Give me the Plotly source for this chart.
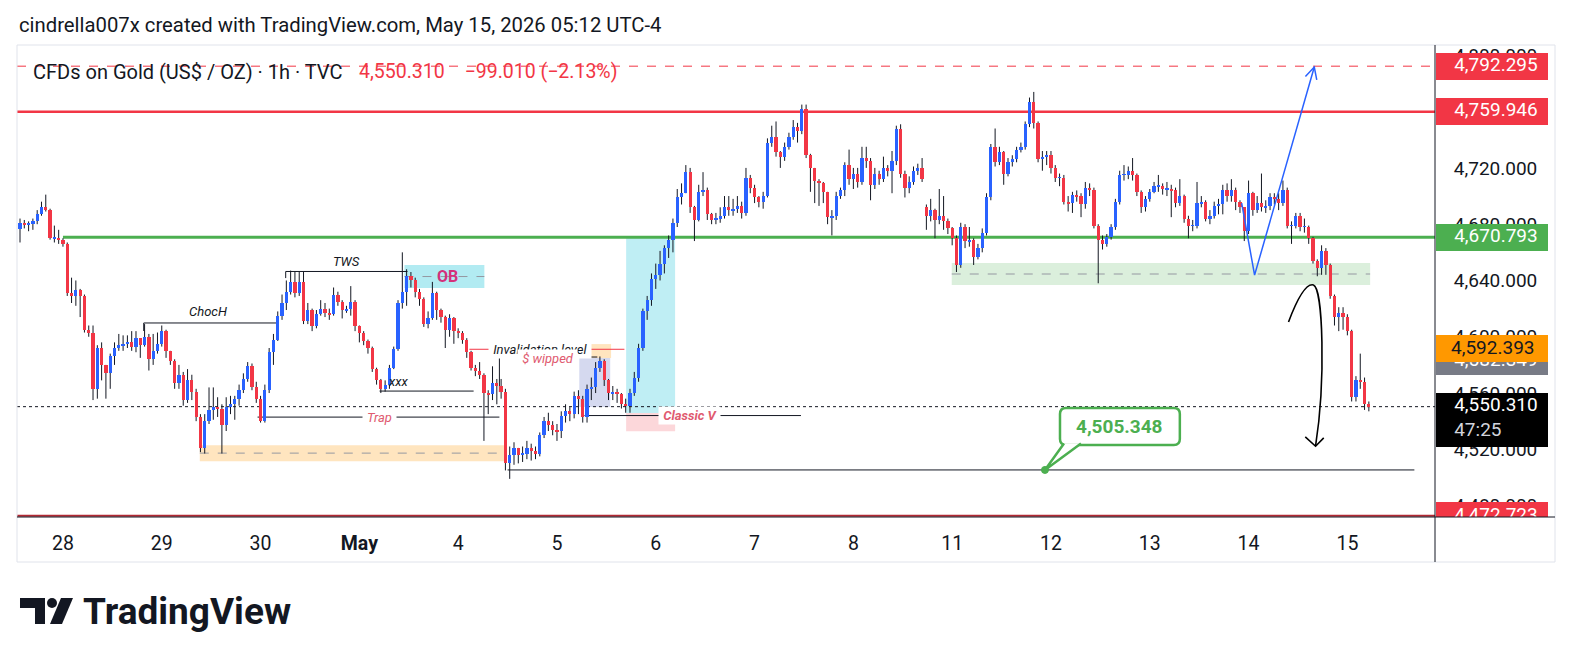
import math
import plotly.graph_objects as go

# ---------------- data (1h candles, XAUUSD) ----------------
close_px = [
    4681, 4680, 4680, 4682, 4687, 4692, 4690, 4670, 4670, 4669,
    4666, 4631, 4629, 4633, 4629, 4605, 4603, 4563, 4592, 4580,
    4574, 4586, 4592, 4594, 4595, 4596, 4593, 4599, 4594, 4600,
    4584, 4590, 4595, 4604, 4590, 4583, 4567, 4573, 4555, 4569,
    4561, 4543, 4521, 4540, 4548, 4550, 4549, 4537, 4550, 4552,
    4556, 4562, 4570, 4579, 4564, 4556, 4540, 4562, 4589, 4598,
    4615, 4624, 4632, 4639, 4631, 4639, 4611, 4619, 4608, 4616,
    4620, 4617, 4616, 4630, 4625, 4619, 4620, 4625, 4608, 4603,
    4597, 4592, 4577, 4569, 4563, 4566, 4578, 4591, 4624, 4632,
    4643, 4640, 4632, 4627, 4609, 4613, 4631, 4619, 4614, 4605,
    4613, 4604, 4603, 4598, 4589, 4578, 4576, 4573, 4560, 4559,
    4567, 4565, 4561, 4510, 4516, 4521, 4516, 4517, 4521, 4519,
    4517, 4530, 4540, 4537, 4534, 4533, 4544, 4547, 4545, 4558,
    4556, 4543, 4563, 4564, 4578, 4583, 4569, 4560, 4561, 4559,
    4552, 4551, 4560, 4571, 4592, 4618, 4626, 4641, 4644, 4652,
    4663, 4669, 4681, 4699, 4702, 4717, 4692, 4683, 4703, 4704,
    4687, 4683, 4684, 4686, 4692, 4690, 4691, 4693, 4688, 4713,
    4706, 4699, 4696, 4700, 4738, 4742, 4731, 4728, 4735, 4742,
    4749, 4746, 4762, 4729, 4720, 4711, 4709, 4703, 4685, 4686,
    4700, 4704, 4722, 4712, 4716, 4710, 4727, 4725, 4708, 4716,
    4712, 4720, 4718, 4725, 4748, 4716, 4706, 4710, 4718, 4720,
    4712, 4686, 4690, 4683, 4686, 4682, 4677, 4670, 4651, 4678,
    4668, 4669, 4657, 4663, 4674, 4699, 4735, 4724, 4731, 4716,
    4724, 4726, 4733, 4735, 4751, 4767, 4752, 4726, 4728, 4729,
    4720, 4713, 4713, 4696, 4695, 4701, 4700, 4694, 4706, 4704,
    4679, 4669, 4666, 4671, 4678, 4696, 4715, 4715, 4718, 4715,
    4703, 4692, 4698, 4703, 4707, 4707, 4705, 4705, 4704, 4695,
    4700, 4684, 4679, 4679, 4695, 4696, 4684, 4686, 4693, 4694,
    4704, 4700, 4704, 4696, 4692, 4675, 4702, 4690, 4695, 4692,
    4693, 4699, 4698, 4695, 4704, 4679, 4679, 4686, 4678, 4678,
    4670, 4654, 4649, 4661, 4651, 4629, 4614, 4617, 4614, 4604,
    4557, 4569, 4568, 4552, 4550.31,
]
high_px = [
    4684, 4683, 4682, 4684, 4690, 4696, 4701, 4691, 4679, 4676,
    4670, 4667, 4642, 4640, 4634, 4630, 4608, 4608, 4594, 4596,
    4580, 4588, 4596, 4602, 4601, 4601, 4604, 4604, 4599, 4609,
    4602, 4602, 4603, 4608, 4605, 4590, 4584, 4580, 4575, 4577,
    4573, 4563, 4545, 4545, 4564, 4564, 4557, 4552, 4557, 4558,
    4558, 4566, 4574, 4582, 4581, 4568, 4558, 4566, 4592, 4602,
    4618, 4630, 4640, 4647, 4646, 4646, 4646, 4624, 4620, 4619,
    4626, 4624, 4620, 4635, 4632, 4626, 4622, 4636, 4626, 4608,
    4604, 4598, 4593, 4578, 4570, 4569, 4580, 4593, 4626, 4660,
    4648, 4646, 4642, 4634, 4628, 4618, 4639, 4632, 4620, 4615,
    4616, 4614, 4606, 4604, 4599, 4590, 4580, 4582, 4574, 4562,
    4579, 4570, 4570, 4563, 4522, 4525, 4521, 4522, 4526, 4524,
    4522, 4532, 4543, 4546, 4540, 4538, 4547, 4552, 4550, 4561,
    4562, 4558, 4566, 4571, 4582, 4586, 4584, 4570, 4565, 4563,
    4560, 4556, 4563, 4575, 4595, 4620, 4629, 4645, 4652, 4661,
    4665, 4672, 4684, 4705, 4709, 4722, 4720, 4693, 4708, 4717,
    4706, 4688, 4688, 4692, 4700, 4700, 4698, 4700, 4696, 4720,
    4715, 4708, 4700, 4703, 4741, 4750, 4753, 4732, 4738, 4745,
    4754, 4752, 4765, 4765, 4730, 4720, 4712, 4710, 4703, 4690,
    4703, 4706, 4724, 4733, 4720, 4720, 4735, 4735, 4727, 4720,
    4718, 4728, 4722, 4732, 4750, 4751, 4718, 4714, 4721, 4723,
    4727, 4694, 4698, 4691, 4705, 4700, 4684, 4678, 4672, 4681,
    4680, 4678, 4670, 4666, 4677, 4702, 4737, 4748, 4735, 4732,
    4727, 4729, 4735, 4738, 4753, 4770, 4774, 4753, 4732, 4732,
    4732, 4722, 4716, 4715, 4700, 4703, 4704, 4702, 4710, 4709,
    4706, 4680, 4672, 4673, 4680, 4698, 4718, 4722, 4721, 4727,
    4716, 4704, 4700, 4705, 4710, 4715, 4709, 4710, 4708, 4706,
    4712, 4701, 4686, 4683, 4710, 4700, 4697, 4690, 4696, 4698,
    4708, 4709, 4712, 4706, 4697, 4692, 4711, 4703, 4700, 4716,
    4697, 4702, 4702, 4702, 4711, 4706, 4682, 4688, 4688, 4684,
    4679, 4671, 4655, 4665, 4663, 4652, 4630, 4621, 4621, 4616,
    4605, 4572, 4588, 4571, 4554,
]
low_px = [
    4667, 4677, 4675, 4676, 4680, 4686, 4689, 4669, 4667, 4666,
    4664, 4629, 4624, 4622, 4614, 4603, 4600, 4555, 4556, 4569,
    4556, 4563, 4580, 4590, 4590, 4592, 4590, 4589, 4585, 4593,
    4576, 4580, 4588, 4593, 4585, 4580, 4563, 4563, 4551, 4553,
    4555, 4540, 4518, 4517, 4538, 4541, 4543, 4517, 4533, 4545,
    4541, 4551, 4560, 4568, 4562, 4553, 4539, 4539, 4560, 4580,
    4597, 4612, 4619, 4630, 4628, 4629, 4609, 4609, 4604, 4606,
    4615, 4614, 4612, 4615, 4622, 4613, 4617, 4615, 4604, 4596,
    4594, 4588, 4575, 4566, 4560, 4561, 4563, 4577, 4590, 4620,
    4622, 4635, 4628, 4622, 4607, 4606, 4612, 4612, 4610, 4592,
    4600, 4595, 4599, 4595, 4585, 4576, 4572, 4570, 4526, 4545,
    4555, 4552, 4556, 4505, 4499, 4509, 4510, 4511, 4513, 4512,
    4513, 4515, 4528, 4533, 4530, 4526, 4528, 4539, 4540, 4542,
    4545, 4539, 4539, 4555, 4560, 4575, 4565, 4555, 4555, 4553,
    4549, 4546, 4546, 4558, 4568, 4590, 4612, 4622, 4634, 4640,
    4645, 4656, 4660, 4678, 4694, 4702, 4688, 4668, 4682, 4700,
    4683, 4680, 4680, 4681, 4684, 4686, 4686, 4688, 4684, 4686,
    4702, 4695, 4692, 4691, 4699, 4735, 4728, 4720, 4725, 4733,
    4740, 4738, 4744, 4727, 4703, 4695, 4693, 4695, 4680, 4672,
    4683, 4698, 4700, 4708, 4705, 4706, 4708, 4720, 4697, 4705,
    4708, 4710, 4714, 4702, 4722, 4713, 4699, 4702, 4708, 4715,
    4710, 4676, 4682, 4670, 4680, 4676, 4673, 4665, 4646, 4649,
    4663, 4664, 4651, 4655, 4660, 4672, 4697, 4721, 4722, 4708,
    4714, 4721, 4724, 4731, 4733, 4749, 4748, 4724, 4718, 4722,
    4716, 4710, 4707, 4694, 4689, 4688, 4696, 4685, 4691, 4700,
    4677, 4638, 4662, 4664, 4669, 4676, 4694, 4711, 4712, 4711,
    4700, 4688, 4689, 4696, 4702, 4703, 4701, 4700, 4685, 4692,
    4693, 4681, 4670, 4675, 4677, 4692, 4682, 4680, 4684, 4687,
    4687, 4696, 4696, 4690, 4688, 4668, 4673, 4686, 4688, 4689,
    4688, 4690, 4694, 4690, 4693, 4677, 4666, 4677, 4675, 4674,
    4666, 4652, 4643, 4644, 4644, 4627, 4608, 4604, 4605, 4601,
    4554, 4554, 4563, 4548, 4547,
]
first_open = 4676.5
gap_opens = {211: 4692.0}          # Monday session open after the weekend

day_start_bar = [10, 33, 56, 79, 102, 125, 148, 171, 194, 217, 240, 263, 286, 309]
day_labels = ["28", "29", "30", "<b>May</b>", "4", "5", "6", "7", "8", "11", "12", "13", "14", "15"]
price_ticks = [4480, 4520, 4560, 4600, 4640, 4680, 4720, 4760, 4800]

target_high = 4792.295
resistance = 4759.946
support = 4670.793
floor_level = 4472.723
target_low = 4505.348
last_price = 4550.310
last_change = -99.010
last_pct = -2.13
countdown = "47:25"
extra_tag_orange = 4592.393
extra_tag_gray = 4582.349

# ---------------- colours / geometry ----------------
UP, DOWN, INK = "#2962FF", "#F23645", "#131722"
GREEN, ORANGE, GRAY = "#4CAF50", "#FF9800", "#787B86"
FONT = "Roboto"

W, H = 1574, 666
PL, PR, PAPER_R = 17, 1435, 1555
PT, PB = 45, 517
X_RANGE = [-0.7, 329.4]
Y_RANGE = [4471.9, 4807.35]
PXB = (PR - PL) / (X_RANGE[1] - X_RANGE[0])
PXU = (PB - PT) / (Y_RANGE[1] - Y_RANGE[0])
XD = (PR - PL) / (PAPER_R - PL)
TAG_TXT_X = 0.16


def to_px(b, p):
    return PL + (b - X_RANGE[0]) * PXB, PT + (Y_RANGE[1] - p) * PXU


def to_data(x, y):
    return X_RANGE[0] + (x - PL) / PXB, Y_RANGE[1] - (y - PT) / PXU


def pxx(x):
    return (x - PL) / (PAPER_R - PL)


def pxy(y):
    return (PB - y) / (PB - PT)


# ---------------- candles ----------------
opens = []
prev = first_open
for i, c in enumerate(close_px):
    opens.append(gap_opens.get(i, prev))
    prev = c
idx = list(range(len(close_px)))
hi = [max(h, o, c) for h, o, c in zip(high_px, opens, close_px)]
lo = [min(l, o, c) for l, o, c in zip(low_px, opens, close_px)]

wx, wy = [], []
for i in idx:
    wx += [i, i, None]
    wy += [lo[i], hi[i], None]

fig = go.Figure()
fig.add_trace(go.Scatter(x=wx, y=wy, mode="lines", line=dict(color=INK, width=1),
                         hoverinfo="skip", xaxis="x", yaxis="y"))
for is_up, col in ((True, UP), (False, DOWN)):
    sel = [i for i in idx if (close_px[i] >= opens[i]) == is_up]
    fig.add_trace(go.Bar(
        x=sel,
        base=[min(opens[i], close_px[i]) for i in sel],
        y=[max(abs(close_px[i] - opens[i]), 0.3) for i in sel],
        width=0.76, marker=dict(color=col, line=dict(width=0)),
        xaxis="x3", yaxis="y", hoverinfo="skip"))

# ---------------- price-scale tags (right axis area) ----------------
TAG_H = 27 / PXU
tags = [
    (target_high, f"{target_high:,.3f}", DOWN, "white"),
    (resistance, f"{resistance:,.3f}", DOWN, "white"),
    (support, f"{support:,.3f}", GREEN, "white"),
    (extra_tag_gray, f"{extra_tag_gray:,.3f}", GRAY, "white"),
    (floor_level, f"{floor_level:,.3f}", DOWN, "white"),
]
for p, txt, bg, fg in tags:
    fig.add_trace(go.Bar(x=[0.475], width=[0.933], base=[p - TAG_H / 2], y=[TAG_H],
                         marker=dict(color=bg, line=dict(width=0)),
                         xaxis="x2", yaxis="y", hoverinfo="skip"))
blk_top = to_data(0, 393)[1]
blk_bot = to_data(0, 447)[1]
fig.add_trace(go.Bar(x=[0.475], width=[0.933], base=[blk_bot], y=[blk_top - blk_bot],
                     marker=dict(color="#000000", line=dict(width=0)),
                     xaxis="x2", yaxis="y", hoverinfo="skip"))
for p, txt, bg, fg in tags:
    fig.add_trace(go.Scatter(x=[TAG_TXT_X], y=[p], mode="text", text=[txt], textposition="middle right",
                             textfont=dict(color=fg, size=19, family=FONT), cliponaxis=True,
                             xaxis="x2", yaxis="y", hoverinfo="skip"))
fig.add_trace(go.Scatter(x=[TAG_TXT_X, TAG_TXT_X], y=[to_data(0, 406)[1], to_data(0, 431)[1]], mode="text",
                         text=[f"{last_price:,.3f}", countdown], textposition="middle right",
                         textfont=dict(color=["white", "#d1d4dc"], size=19, family=FONT),
                         cliponaxis=True, xaxis="x2", yaxis="y", hoverinfo="skip"))

shapes = []
annotations = []


def hline(p, b0, b1, color=INK, width=1, dash="solid", layer="below"):
    shapes.append(dict(type="line", xref="x", yref="y", x0=b0, x1=b1, y0=p, y1=p,
                       line=dict(color=color, width=width, dash=dash), layer=layer))


def vline(b, p0, p1, color=INK, width=1, layer="below"):
    shapes.append(dict(type="line", xref="x", yref="y", x0=b, x1=b, y0=p0, y1=p1,
                       line=dict(color=color, width=width), layer=layer))


def box(b0, b1, p0, p1, fill, layer="below"):
    shapes.append(dict(type="rect", xref="x", yref="y", x0=b0, x1=b1, y0=p0, y1=p1,
                       fillcolor=fill, line=dict(width=0), layer=layer))


def label(b, p, text, color=INK, size=13, bg=None, xanchor="center"):
    annotations.append(dict(x=b, y=p, xref="x", yref="y", text=text, showarrow=False,
                            xanchor=xanchor, yanchor="middle",
                            font=dict(family=FONT, size=size, color=color),
                            bgcolor=bg, borderpad=1))


def data_path(cmds_pts):
    return " ".join(cmd + " ".join("%.4f,%.4f" % pt for pt in pts) for cmd, pts in cmds_pts)


def arrow_wings(tail, tip, length=13, ang=27):
    tx, ty = to_px(*tail)
    hx, hy = to_px(*tip)
    dx, dy = hx - tx, hy - ty
    n = math.hypot(dx, dy)
    ux, uy = -dx / n, -dy / n
    wings = []
    for s in (1, -1):
        a = math.radians(ang) * s
        rx = ux * math.cos(a) - uy * math.sin(a)
        ry = ux * math.sin(a) + uy * math.cos(a)
        wings.append(to_data(hx + rx * length, hy + ry * length))
    return wings


# zones (below candles)
box(41.85, 112.8, 4511.6, 4522.9, "rgba(255,152,0,0.25)")
hline(4517.3, 41.85, 112.8, color="#9598a1", dash="dash")
box(89.5, 108.1, 4634.6, 4651.0, "rgba(0,188,212,0.30)")
hline(4642.8, 89.5, 108.1, color="#9598a1", dash="dash")
box(216.9, 314.3, 4636.8, 4652.4, "rgba(76,175,80,0.20)")
hline(4644.6, 216.9, 314.3, color="#9598a1", dash="dash")
box(141.1, 152.5, 4545.8, 4671.6, "rgba(0,188,212,0.25)")
box(141.1, 152.5, 4532.9, 4545.8, "rgba(242,54,69,0.20)")
box(130.9, 137.6, 4584.9, 4594.8, "rgba(255,152,0,0.25)")
box(130.2, 137.4, 4550.1, 4584.9, "rgba(63,81,181,0.22)")

# key horizontal levels
hline(target_high, X_RANGE[0], X_RANGE[1], color=DOWN, width=1, dash="dash")
hline(resistance, X_RANGE[0], X_RANGE[1], color=DOWN, width=2.5)
hline(support, 10.0, X_RANGE[1], color=GREEN, width=3)
hline(floor_level, X_RANGE[0], X_RANGE[1], color="#b22833", width=2)
hline(last_price, X_RANGE[0], X_RANGE[1], color=INK, width=1, dash="dot")
hline(target_low, 113.5, 324.6, color=INK, width=1)

# structure drawings
hline(4609.8, 28.8, 60.0)
vline(28.8, 4609.8, 4604.1)
label(43.8, 4618.3, "<i>ChocH</i>")
hline(4646.4, 61.85, 90.2)
vline(61.85, 4646.4, 4641.7)
label(76.0, 4653.8, "<i>TWS</i>")
label(99.4, 4642.6, "<b>OB</b>", color="#d4317a", size=16)
hline(4561.4, 83.7, 105.6)
label(88.0, 4568.5, "<i>xxx</i>")
hline(4542.9, 55.3, 111.6)
label(83.8, 4542.9, "<i> Trap </i>", color="#e05a6f", bg="white")
hline(4591.1, 104.6, 140.7, color=DOWN)
label(121.1, 4591.1, "<i> Invalidation level </i>", bg="white")
hline(4585.6, 111.6, 134.4)
vline(111.6, 4585.6, 4560.7)
label(122.7, 4584.6, "<i> $ wipped </i>", color="#e05a6f", bg="white")
hline(4544.0, 131.4, 181.8)
label(155.8, 4544.0, "<b><i> Classic V </i></b>", color="#e05a6f", bg="white", size=13)

# blue projected V with arrow
v_pts = [(284.4, 4694.9), (287.4, 4643.8), (301.3, 4791.7)]
shapes.append(dict(type="path", xref="x", yref="y", layer="above",
                   path=data_path([("M", [v_pts[0]]), ("L", [v_pts[1]]), ("L", [v_pts[2]])]),
                   line=dict(color=UP, width=1.5)))
w1, w2 = arrow_wings(v_pts[1], v_pts[2])
shapes.append(dict(type="path", xref="x", yref="y", layer="above",
                   path=data_path([("M", [w1]), ("L", [v_pts[2]]), ("L", [w2])]),
                   line=dict(color=UP, width=1.5)))

# black curved arrow
curve = [("M", [(295.3, 4610.5)]),
         ("C", [(297.4, 4627.5), (299.3, 4638.2), (301.1, 4636.8)]),
         ("C", [(303.3, 4634.6), (304.0, 4569.3), (301.6, 4522.4)])]
shapes.append(dict(type="path", xref="x", yref="y", layer="above", path=data_path(curve),
                   line=dict(color="#000000", width=1.6)))
ca, cb = (299.2, 4528.8), (303.5, 4528.1)
shapes.append(dict(type="path", xref="x", yref="y", layer="above",
                   path=data_path([("M", [ca]), ("L", [(301.6, 4522.2)]), ("L", [cb])]),
                   line=dict(color="#000000", width=1.6)))

# price callout 4,505.348
bx0, by1 = to_px(242.1, 4523.0)
bx1, by0 = to_px(270.0, 4549.3)
r = 6
rr = [(bx0 + r, by0), (bx1 - r, by0), (bx1, by0), (bx1, by0 + r), (bx1, by1 - r), (bx1, by1),
      (bx1 - r, by1), (bx0 + r, by1), (bx0, by1), (bx0, by1 - r), (bx0, by0 + r), (bx0, by0), (bx0 + r, by0)]
parts = []
k = 0
seq = [("M", 1), ("L", 1), ("Q", 2), ("L", 1), ("Q", 2), ("L", 1), ("Q", 2), ("L", 1), ("Q", 2)]
for cmd, n in seq:
    parts.append((cmd, [to_data(*pt) for pt in rr[k:k + n]]))
    k += n
shapes.append(dict(type="path", xref="x", yref="y", layer="above", path=data_path(parts) + " Z",
                   fillcolor="white", line=dict(color=GREEN, width=2.5)))
tipx, tipy = to_px(238.6, target_low)
wedge = [to_data(bx0 + 4, by1 - 1.5), (238.6, target_low), to_data(bx0 + 21, by1 - 1.5)]
shapes.append(dict(type="path", xref="x", yref="y", layer="above",
                   path=data_path([("M", [wedge[0]]), ("L", [wedge[1]]), ("L", [wedge[2]])]),
                   fillcolor="white", line=dict(color=GREEN, width=2.5)))
d0 = to_data(tipx - 3.5, tipy + 3.5)
d1 = to_data(tipx + 3.5, tipy - 3.5)
shapes.append(dict(type="circle", xref="x", yref="y", layer="above", x0=d0[0], x1=d1[0], y0=d0[1], y1=d1[1],
                   fillcolor=GREEN, line=dict(color=GREEN, width=1)))
label(256.0, 4536.2, "<b>%s</b>" % f"{target_low:,.3f}", color=GREEN, size=19)

# orange tag drawn above the gray tag (covers it)
shapes.append(dict(type="rect", xref="x2", yref="y", layer="above", x0=0.0083, x1=0.9417,
                   y0=to_data(0, 362)[1], y1=to_data(0, 335)[1], fillcolor=ORANGE, line=dict(width=0)))
annotations.append(dict(x=0.115, y=extra_tag_orange, xref="x2", yref="y", text=f"{extra_tag_orange:,.3f}",
                        showarrow=False, xanchor="left", yanchor="middle",
                        font=dict(family=FONT, size=19, color=INK)))

# frame and axis lines
shapes.append(dict(type="rect", xref="paper", yref="paper", x0=0, x1=1, y0=pxy(562), y1=1,
                   line=dict(color="#e0e3eb", width=1), fillcolor="rgba(0,0,0,0)", layer="above"))
shapes.append(dict(type="line", xref="paper", yref="paper", x0=XD, x1=XD, y0=pxy(562), y1=1,
                   line=dict(color=INK, width=1), layer="above"))
shapes.append(dict(type="line", xref="paper", yref="paper", x0=0, x1=1, y0=0, y1=0,
                   line=dict(color=INK, width=1), layer="above"))

# header texts
annotations.append(dict(x=pxx(17), y=pxy(25), xref="paper", yref="paper", xanchor="left", yanchor="middle",
                        showarrow=False, text="cindrella007x created with TradingView.com, May 15, 2026 05:12 UTC-4",
                        font=dict(family=FONT, size=20.3, color=INK)))
annotations.append(dict(x=pxx(31), y=pxy(72), xref="paper", yref="paper", xanchor="left", yanchor="middle",
                        showarrow=False, text="CFDs on Gold (US$ / OZ) · 1h · TVC",
                        font=dict(family=FONT, size=20, color=INK)))
chg = f"{last_price:,.3f}\u2003{'−' if last_change < 0 else '+'}{abs(last_change):,.3f} ({'−' if last_pct < 0 else '+'}{abs(last_pct):.2f}%)"
annotations.append(dict(x=pxx(357), y=pxy(72), xref="paper", yref="paper", xanchor="left", yanchor="middle",
                        showarrow=False, text=chg, font=dict(family=FONT, size=19.5, color=DOWN)))


# TradingView logo (bottom left)
def ppath(pts):
    return "M " + " L ".join("%.5f,%.5f" % (pxx(x), pxy(y)) for x, y in pts) + " Z"


shapes.append(dict(type="path", xref="paper", yref="paper", path=ppath([(20, 598), (45, 598), (45, 624), (35, 624), (35, 608), (20, 608)]),
                   fillcolor=INK, line=dict(width=0), layer="above"))
shapes.append(dict(type="circle", xref="paper", yref="paper", x0=pxx(47), x1=pxx(57), y0=pxy(608), y1=pxy(598),
                   fillcolor=INK, line=dict(width=0), layer="above"))
shapes.append(dict(type="path", xref="paper", yref="paper", path=ppath([(61, 598), (73, 598), (62, 624), (50, 624)]),
                   fillcolor=INK, line=dict(width=0), layer="above"))
annotations.append(dict(x=pxx(81), y=pxy(611), xref="paper", yref="paper", xanchor="left", yanchor="middle",
                        showarrow=False, text="<b>TradingView</b>", font=dict(family=FONT, size=37, color=INK)))

fig.update_layout(
    width=W, height=H,
    margin=dict(l=PL, r=W - PAPER_R, t=PT, b=H - PB),
    paper_bgcolor="white", plot_bgcolor="white",
    showlegend=False, barmode="overlay", bargap=0,
    font=dict(family=FONT, color=INK),
    xaxis=dict(domain=[0, XD], range=X_RANGE, tickmode="array", tickvals=day_start_bar, ticktext=day_labels,
               ticks="outside", ticklen=9, tickcolor="rgba(0,0,0,0)", showgrid=False, zeroline=False,
               showline=False, tickfont=dict(family=FONT, size=19.5, color=INK), fixedrange=True),
    xaxis2=dict(domain=[XD, 1], range=[0, 1], anchor="y", visible=False, fixedrange=True),
    xaxis3=dict(overlaying="x", range=X_RANGE, anchor="y", visible=False, fixedrange=True),
    yaxis=dict(range=Y_RANGE, side="right", anchor="x", tickmode="array", tickvals=price_ticks,
               ticktext=[f"{v:,.3f}" for v in price_ticks], ticks="outside", ticklen=14,
               tickcolor="rgba(0,0,0,0)", showgrid=False, zeroline=False, showline=False,
               tickfont=dict(family=FONT, size=19, color=INK), layer="below traces", fixedrange=True),
    shapes=shapes, annotations=annotations,
)

fig.write_html("out.html", config={"displayModeBar": False},
               post_script="document.body.style.margin='0px';document.body.style.overflow='hidden';")
